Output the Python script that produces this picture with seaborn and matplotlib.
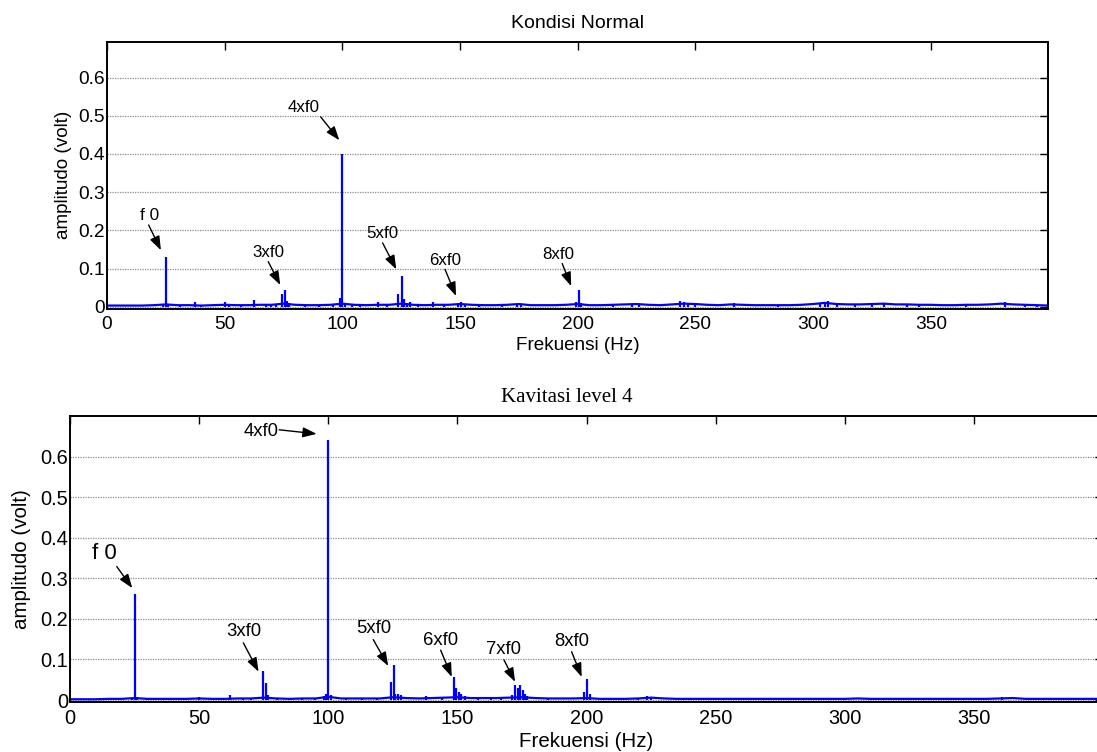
import matplotlib
matplotlib.use("Agg")
import matplotlib.pyplot as plt
import pandas as pd
import seaborn as sns

# ---------------------------------------------------------------------------
# Spectrum data: discrete spectral lines (Hz, volt) and the broadband floor
# ---------------------------------------------------------------------------
normal_line_freq = [24.0, 25.0, 26.0, 31.0, 37.6, 40.0, 50.0, 52.0, 57.0, 62.6,
                    67.5, 69.5, 72.0, 74.5, 75.6, 76.5, 77.5, 84.0, 90.0, 96.0,
                    98.8, 100.0, 101.0, 104.0, 107.5, 115.3, 119.0, 123.6, 125.2,
                    126.3, 127.5, 128.6, 132.0, 138.4, 143.0, 149.2, 150.5, 152.0,
                    158.0, 168.0, 174.0, 176.0, 199.3, 200.4, 201.5, 215.0, 223.0,
                    226.0, 243.5, 245.0, 247.0, 250.0, 266.5, 285.0, 303.0, 305.0,
                    306.5, 310.0, 318.0, 325.0, 330.0, 340.0, 345.0, 365.0, 381.5,
                    390.0, 395.0]
normal_line_amp = [0.006, 0.130, 0.005, 0.004, 0.013, 0.004, 0.012, 0.004, 0.005, 0.017,
                   0.008, 0.006, 0.007, 0.032, 0.045, 0.016, 0.010, 0.005, 0.005, 0.006,
                   0.022, 0.400, 0.010, 0.005, 0.008, 0.013, 0.005, 0.034, 0.080,
                   0.020, 0.010, 0.012, 0.006, 0.012, 0.006, 0.010, 0.013, 0.006,
                   0.004, 0.005, 0.008, 0.008, 0.012, 0.044, 0.010, 0.005, 0.007,
                   0.007, 0.016, 0.012, 0.010, 0.008, 0.010, 0.005, 0.010, 0.013,
                   0.015, 0.007, 0.006, 0.008, 0.009, 0.008, 0.005, 0.005, 0.012,
                   0.006, 0.005]

floor_freq = list(range(0, 401, 5))
normal_floor_amp = [0.003, 0.003, 0.003, 0.003, 0.004, 0.006, 0.004, 0.004, 0.003, 0.004,
                    0.005, 0.004, 0.004, 0.005, 0.005, 0.008, 0.005, 0.004, 0.004, 0.005,
                    0.008, 0.005, 0.004, 0.005, 0.005, 0.008, 0.005, 0.004, 0.005, 0.005,
                    0.007, 0.005, 0.004, 0.004, 0.005, 0.007, 0.004, 0.004, 0.004, 0.005,
                    0.007, 0.004, 0.004, 0.005, 0.006, 0.007, 0.005, 0.004, 0.006, 0.008,
                    0.007, 0.005, 0.004, 0.006, 0.005, 0.004, 0.004, 0.004, 0.004, 0.005,
                    0.007, 0.010, 0.007, 0.006, 0.006, 0.007, 0.008, 0.006, 0.006, 0.005,
                    0.005, 0.004, 0.004, 0.005, 0.005, 0.006, 0.008, 0.006, 0.005, 0.004,
                    0.003]

cav_line_freq = [24.0, 25.0, 26.0, 30.0, 32.0, 38.0, 45.0, 50.0, 56.0, 62.0,
                 67.0, 70.0, 74.7, 75.8, 76.5, 80.0, 85.0, 90.0, 95.0, 98.5,
                 99.3, 100.0, 101.0, 107.0, 113.0, 119.0, 124.1, 125.3, 126.0,
                 127.0, 128.0, 138.0, 144.0, 148.8, 149.6, 150.5, 151.5, 153.0,
                 158.0, 163.0, 167.0, 171.0, 172.3, 173.3, 174.2, 175.2, 176.0,
                 177.0, 185.0, 199.0, 200.3, 201.3, 210.0, 220.0, 223.5, 225.0,
                 240.0, 270.0, 300.0, 310.0, 340.0, 361.0, 380.0]
cav_line_amp = [0.004, 0.261, 0.008, 0.005, 0.004, 0.006, 0.004, 0.007, 0.004, 0.012,
                0.006, 0.005, 0.071, 0.043, 0.012, 0.005, 0.004, 0.005, 0.006, 0.010,
                0.014, 0.641, 0.012, 0.005, 0.006, 0.004, 0.045, 0.086, 0.015,
                0.016, 0.012, 0.010, 0.006, 0.057, 0.030, 0.020, 0.015, 0.010,
                0.006, 0.006, 0.007, 0.012, 0.038, 0.030, 0.036, 0.025, 0.015,
                0.010, 0.005, 0.020, 0.052, 0.015, 0.005, 0.006, 0.010, 0.008,
                0.004, 0.003, 0.004, 0.003, 0.003, 0.007, 0.004]

cav_floor_amp = [0.002, 0.002, 0.002, 0.003, 0.003, 0.005, 0.003, 0.003, 0.003, 0.003,
                 0.004, 0.003, 0.003, 0.004, 0.004, 0.006, 0.004, 0.003, 0.004, 0.004,
                 0.008, 0.004, 0.004, 0.004, 0.004, 0.007, 0.005, 0.004, 0.005, 0.006,
                 0.007, 0.005, 0.005, 0.005, 0.006, 0.007, 0.005, 0.004, 0.004, 0.004,
                 0.005, 0.003, 0.003, 0.003, 0.004, 0.006, 0.004, 0.003, 0.003, 0.003,
                 0.003, 0.003, 0.003, 0.003, 0.003, 0.003, 0.003, 0.003, 0.003, 0.003,
                 0.003, 0.004, 0.003, 0.003, 0.003, 0.003, 0.003, 0.003, 0.003, 0.003,
                 0.003, 0.003, 0.004, 0.005, 0.003, 0.003, 0.003, 0.003, 0.003, 0.003,
                 0.003]

x_ticks = [0, 50, 100, 150, 200, 250, 300, 350]
y_ticks = [0, 0.1, 0.2, 0.3, 0.4, 0.5, 0.6]
y_tick_labels = ["0", "0.1", "0.2", "0.3", "0.4", "0.5", "0.6"]

# Harmonic call-outs: label, text centre, arrow tail, arrow head (data units)
normal_notes = [
    ("f 0",  (18.1, 0.240), (17.7, 0.214), (22.9, 0.148)),
    ("3xf0", (68.5, 0.142), (68.5, 0.118), (73.6, 0.057)),
    ("4xf0", (83.7, 0.522), (90.8, 0.497), (98.7, 0.436)),
    ("5xf0", (117.1, 0.192), (117.1, 0.167), (122.9, 0.098)),
    ("6xf0", (143.6, 0.122), (143.6, 0.098), (148.3, 0.028)),
    ("8xf0", (191.7, 0.138), (193.4, 0.113), (197.2, 0.054)),
]
cav_notes = [
    ("f 0",  (13.2, 0.360), (18.1, 0.329), (24.1, 0.276)),
    ("4xf0", (73.8, 0.663), (81.0, 0.666), (95.5, 0.656)),
    ("3xf0", (67.1, 0.168), (67.1, 0.141), (73.0, 0.070)),
    ("5xf0", (117.7, 0.177), (117.4, 0.149), (123.2, 0.084)),
    ("6xf0", (143.5, 0.148), (143.5, 0.123), (147.8, 0.057)),
    ("7xf0", (168.0, 0.125), (168.0, 0.099), (172.3, 0.045)),
    ("8xf0", (194.2, 0.144), (194.2, 0.119), (198.1, 0.057)),
]

# ---------------------------------------------------------------------------
sns.set_theme(style="white")
plt.rcParams["font.family"] = ["Liberation Sans", "DejaVu Sans"]

W, H = 1097, 752
fig = plt.figure(figsize=(W / 100, H / 100), dpi=100)


def px_box(left, right, top, bottom):
    return [left / W, 1 - bottom / H, (right - left) / W, (bottom - top) / H]


ax_top = fig.add_axes(px_box(107, 1048, 41.7, 309))
ax_bot = fig.add_axes(px_box(70, 1102.7, 416, 701.7))

panels = [
    dict(ax=ax_top, line_f=normal_line_freq, line_a=normal_line_amp,
         floor=normal_floor_amp, notes=normal_notes, ylim=(-0.006, 0.694),
         title="Kondisi Normal", title_font=["Liberation Sans"], title_size=14,
         title_x=0.5, tick_size=13.8, label_size=13.6, note_size=12.2,
         f0_size=12.4, ylab_x=-0.0464, xlab_y=-0.138),
    dict(ax=ax_bot, line_f=cav_line_freq, line_a=cav_line_amp,
         floor=cav_floor_amp, notes=cav_notes, ylim=(-0.004, 0.700),
         title="Kavitasi level 4", title_font=["Liberation Serif"], title_size=15,
         title_x=0.481, tick_size=14.4, label_size=14.8, note_size=13.3,
         f0_size=16, ylab_x=-0.0474, xlab_y=-0.1376),
]

for p in panels:
    ax = p["ax"]
    floor_df = pd.DataFrame({"freq": floor_freq, "amp": p["floor"]})
    sns.lineplot(data=floor_df, x="freq", y="amp", ax=ax, color="#0000ff",
                 linewidth=1.6, zorder=3)
    ax.vlines(p["line_f"], 0, p["line_a"], color="#0000ff", linewidth=1.6, zorder=3)

    ax.set_xlim(0, 399.8)
    ax.set_ylim(*p["ylim"])
    ax.set_xticks(x_ticks)
    ax.set_yticks(y_ticks)
    ax.set_yticklabels(y_tick_labels)
    ax.grid(axis="y", color="0.55", linestyle=(0, (1, 1)), linewidth=0.9)
    ax.grid(axis="x", visible=False)
    ax.set_axisbelow(True)
    for s in ax.spines.values():
        s.set_color("black")
        s.set_linewidth(1.4)
        s.set_zorder(5)
    ax.tick_params(axis="both", which="major", direction="in", length=6,
                   width=1, color="black", top=True, right=True,
                   labelsize=p["tick_size"], labelcolor="black")
    ax.tick_params(axis="x", pad=5)
    ax.tick_params(axis="y", pad=1.5)

    ax.set_xlabel("Frekuensi (Hz)", fontsize=p["label_size"], color="black")
    ax.xaxis.set_label_coords(0.5, p["xlab_y"])
    ax.xaxis.label.set_verticalalignment("center")
    ax.set_ylabel("amplitudo (volt)", fontsize=p["label_size"], color="black")
    ax.yaxis.set_label_coords(p["ylab_x"], 0.5)
    ax.yaxis.label.set_verticalalignment("center")

    ax.text(p["title_x"], 1.050, p["title"], transform=ax.transAxes,
            ha="center", va="baseline", fontsize=p["title_size"],
            family=p["title_font"], color="black")

    for label, txt, tail, head in p["notes"]:
        size = p["f0_size"] if label == "f 0" else p["note_size"]
        ax.text(txt[0], txt[1], label, ha="center", va="center",
                fontsize=size, color="black", zorder=6)
        ax.annotate("", xy=head, xytext=tail,
                    arrowprops=dict(arrowstyle="-|>,head_length=0.6,head_width=0.22",
                                    color="black", lw=1.0, shrinkA=0, shrinkB=0,
                                    mutation_scale=14),
                    zorder=6)

fig.savefig("out.png", dpi=100, facecolor="white")
